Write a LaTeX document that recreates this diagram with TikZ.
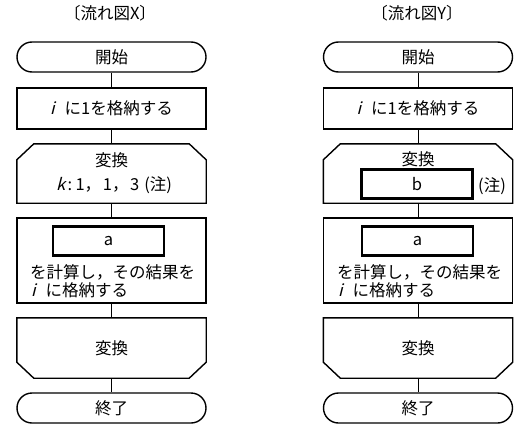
\documentclass[tikz,border=0pt]{standalone}
\usepackage{fontspec}
\setmainfont{Noto Sans CJK JP}
\newfontfamily\itfont[FakeSlant=0.25]{Noto Sans CJK JP}
\usetikzlibrary{shapes.misc}
\begin{document}
\begin{tikzpicture}[x=1pt,y=-1pt,
  every node/.style={font=\fontsize{16.5}{19}\selectfont, inner sep=0pt},
  term/.style={rounded rectangle, draw, line width=1.4pt, minimum width=189pt, minimum height=30pt},
  proc/.style={rectangle, draw, line width=1.4pt, minimum width=189pt},
  frame/.style={rectangle, minimum width=189pt},
  hole/.style={rectangle, draw, line width=2.8pt, minimum width=111pt, minimum height=29pt},
  outl/.style={line width=1.4pt, line join=miter},
  conn/.style={line width=1pt},
  ttl/.style={font=\fontsize{16.5}{19}\selectfont}]
\useasboundingbox (0,0) rectangle (526,433);

% ---------- left: flowchart X ----------
\node[ttl] (tX) at (110,13) {〔流れ図X〕};
\node[term] (s1) at (111.5,57) {開始};
\node[proc, minimum height=41pt] (p1) at (111.5,108.5) {{\itfont i}\hspace{0.6em}に1を格納する};
\node[frame, minimum height=59pt] (l1) at (111.5,173.5) {};
\draw[outl] (l1.south west) -- ([yshift=-16pt]l1.north west) -- ([xshift=17pt]l1.north west)
  -- ([xshift=-17pt]l1.north east) -- ([yshift=-16pt]l1.north east) -- (l1.south east) -- cycle;
\node (l1a) at (111.5,160) {変換};
\node (l1b) at (114,185) {{\itfont k}\hspace{0.15em}:\hspace{0.2em}1，\hspace{0.1em}1，\hspace{0.1em}3\hspace{0.3em}(注)};
\node[proc, minimum height=85pt] (q1) at (111.5,260.5) {};
\node[hole] (a1) at (108.5,241) {a};
\node[anchor=west] (q1a) at (30,272) {を計算し，その結果を};
\node[anchor=west] (q1b) at (31,290) {{\itfont i}\hspace{0.6em}に格納する};
\node[frame, minimum height=60pt] (e1) at (111.5,348) {};
\draw[outl] (e1.north west) -- ([yshift=16pt]e1.south west) -- ([xshift=17pt]e1.south west)
  -- ([xshift=-17pt]e1.south east) -- ([yshift=16pt]e1.south east) -- (e1.north east) -- cycle;
\node (e1a) at (111.5,348) {変換};
\node[term] (t1) at (111.5,408) {終了};

\draw[conn] (s1.south) -- (p1.north);
\draw[conn] (p1.south) -- (l1.north);
\draw[conn] (l1.south) -- (q1.north);
\draw[conn] (q1.south) -- (e1.north);
\draw[conn] (e1.south) -- (t1.north);

% ---------- right: flowchart Y ----------
\node[ttl] (tY) at (417,13) {〔流れ図Y〕};
\node[term] (s2) at (418,57) {開始};
\node[proc, minimum height=41pt] (p2) at (418,108.5) {{\itfont i}\hspace{0.6em}に1を格納する};
\node[frame, minimum height=59pt] (l2) at (418,173.5) {};
\draw[outl] (l2.south west) -- ([yshift=-16pt]l2.north west) -- ([xshift=17pt]l2.north west)
  -- ([xshift=-17pt]l2.north east) -- ([yshift=-16pt]l2.north east) -- (l2.south east) -- cycle;
\node (l2a) at (418,159) {変換};
\node[hole] (b2) at (417,184) {b};
\node[anchor=west] (n2) at (478,186) {(注)};
\node[proc, minimum height=85pt] (q2) at (418,260.5) {};
\node[hole] (a2) at (417.5,241) {a};
\node[anchor=west] (q2a) at (337,272) {を計算し，その結果を};
\node[anchor=west] (q2b) at (338,290) {{\itfont i}\hspace{0.6em}に格納する};
\node[frame, minimum height=60pt] (e2) at (418,348) {};
\draw[outl] (e2.north west) -- ([yshift=16pt]e2.south west) -- ([xshift=17pt]e2.south west)
  -- ([xshift=-17pt]e2.south east) -- ([yshift=16pt]e2.south east) -- (e2.north east) -- cycle;
\node (e2a) at (418,348) {変換};
\node[term] (t2) at (418,408) {終了};

\draw[conn] (s2.south) -- (p2.north);
\draw[conn] (p2.south) -- (l2.north);
\draw[conn] (l2.south) -- (q2.north);
\draw[conn] (q2.south) -- (e2.north);
\draw[conn] (e2.south) -- (t2.north);
\end{tikzpicture}
\end{document}
